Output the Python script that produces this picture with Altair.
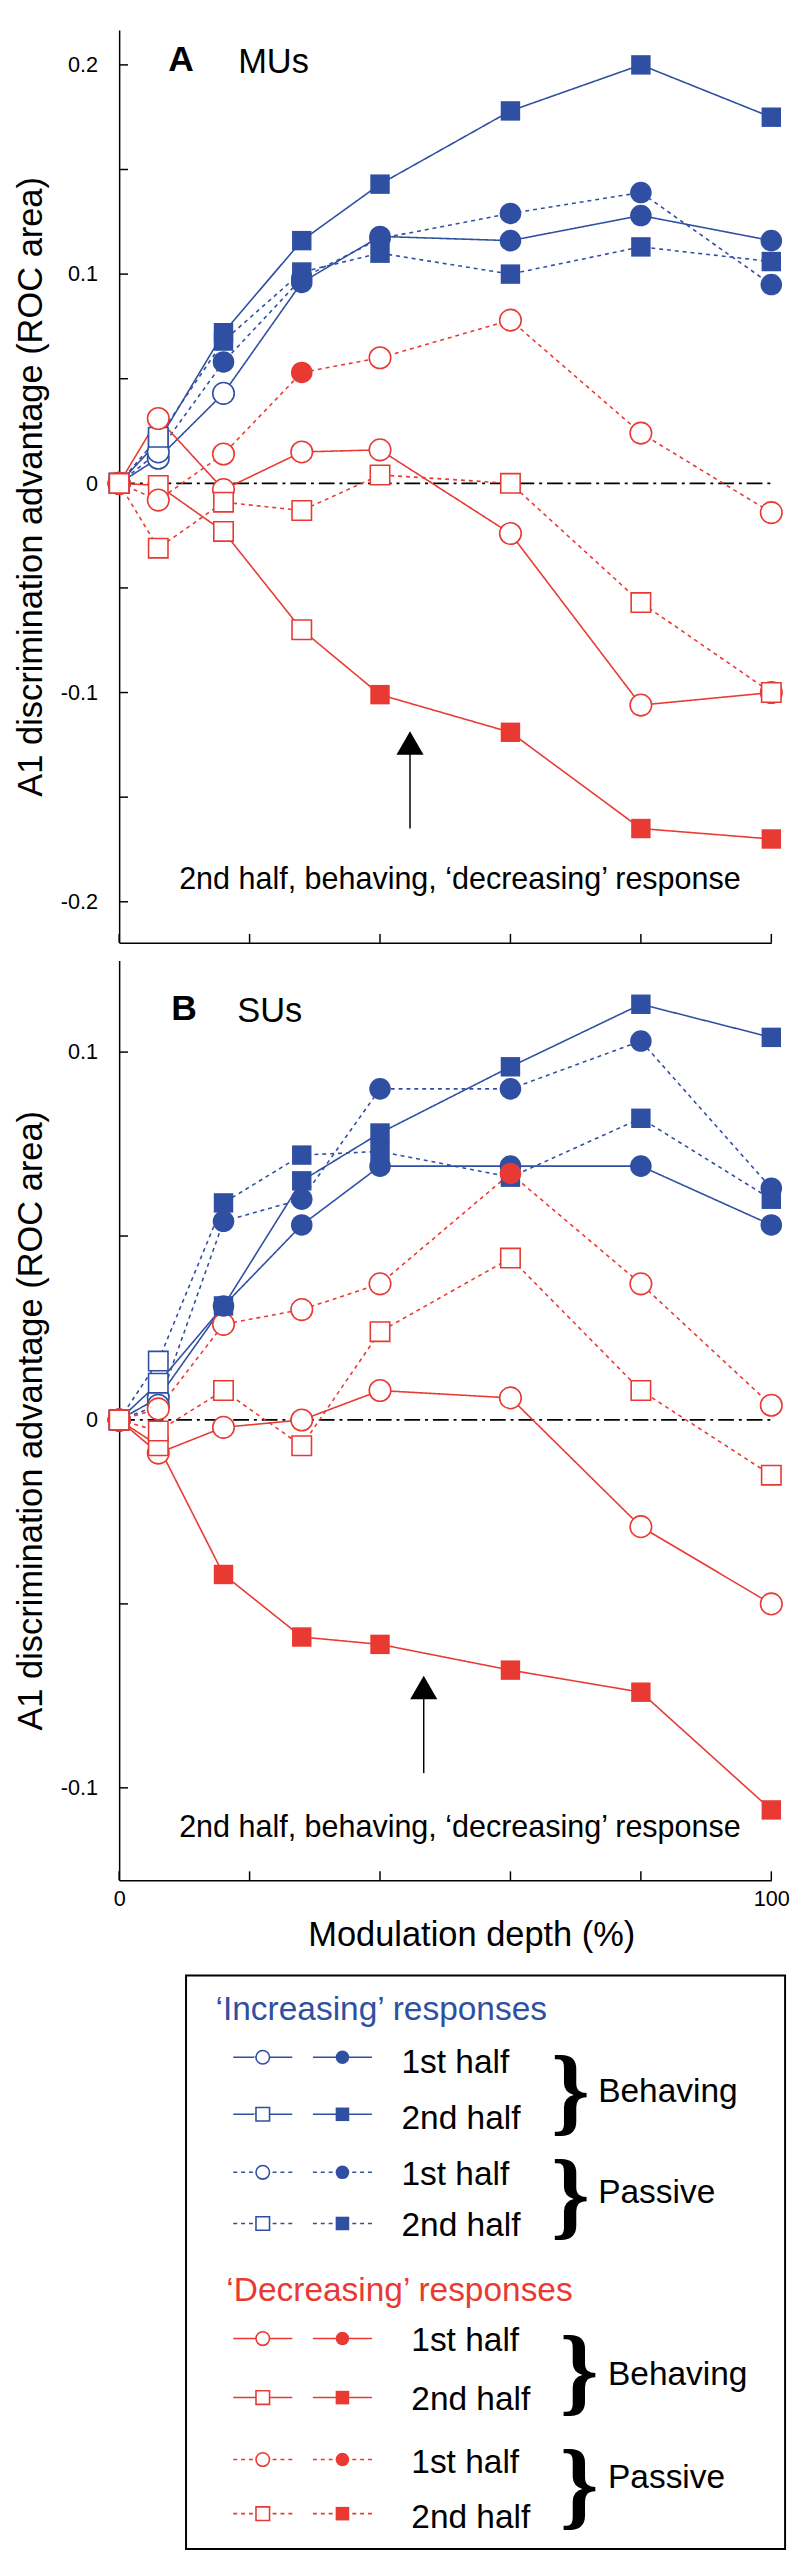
import altair as alt
import pandas as pd

# ---------------- data ----------------
depth = [0, 6, 16, 28, 40, 60, 80, 100]

# Panel A: MUs
mu_inc_beh_1st = [0, 0.012, 0.043, 0.096, 0.118, 0.116, 0.128, 0.116]
mu_inc_beh_1st_sig = [0, 0, 0, 1, 1, 1, 1, 1]
mu_inc_beh_2nd = [0, 0.020, 0.072, 0.116, 0.143, 0.178, 0.200, 0.175]
mu_inc_beh_2nd_sig = [0, 0, 1, 1, 1, 1, 1, 1]
mu_inc_pas_1st = [0, 0.015, 0.058, 0.098, 0.117, 0.129, 0.139, 0.095]
mu_inc_pas_1st_sig = [0, 0, 1, 1, 1, 1, 1, 1]
mu_inc_pas_2nd = [0, 0.022, 0.068, 0.101, 0.110, 0.100, 0.113, 0.106]
mu_inc_pas_2nd_sig = [0, 0, 1, 1, 1, 1, 1, 1]
mu_dec_beh_1st = [0, 0.031, -0.003, 0.015, 0.016, -0.024, -0.106, -0.100]
mu_dec_beh_1st_sig = [0, 0, 0, 0, 0, 0, 0, 0]
mu_dec_beh_2nd = [0, -0.001, -0.023, -0.070, -0.101, -0.119, -0.165, -0.170]
mu_dec_beh_2nd_sig = [0, 0, 0, 0, 1, 1, 1, 1]
mu_dec_pas_1st = [0, -0.008, 0.014, 0.053, 0.060, 0.078, 0.024, -0.014]
mu_dec_pas_1st_sig = [0, 0, 0, 1, 0, 0, 0, 0]
mu_dec_pas_2nd = [0, -0.031, -0.009, -0.013, 0.004, 0.000, -0.057, -0.100]
mu_dec_pas_2nd_sig = [0, 0, 0, 0, 0, 0, 0, 0]

# Panel B: SUs
su_inc_beh_1st = [0, 0.006, 0.031, 0.053, 0.069, 0.069, 0.069, 0.053]
su_inc_beh_1st_sig = [0, 0, 1, 1, 1, 1, 1, 1]
su_inc_beh_2nd = [0, 0.010, 0.031, 0.065, 0.078, 0.096, 0.113, 0.104]
su_inc_beh_2nd_sig = [0, 0, 1, 1, 1, 1, 1, 1]
su_inc_pas_1st = [0, 0.004, 0.054, 0.060, 0.090, 0.090, 0.103, 0.063]
su_inc_pas_1st_sig = [0, 0, 1, 1, 1, 1, 1, 1]
su_inc_pas_2nd = [0, 0.016, 0.059, 0.072, 0.073, 0.066, 0.082, 0.060]
su_inc_pas_2nd_sig = [0, 0, 1, 1, 1, 1, 1, 1]
su_dec_beh_1st = [0, -0.009, -0.002, 0.000, 0.008, 0.006, -0.029, -0.050]
su_dec_beh_1st_sig = [0, 0, 0, 0, 0, 0, 0, 0]
su_dec_beh_2nd = [0, -0.007, -0.042, -0.059, -0.061, -0.068, -0.074, -0.106]
su_dec_beh_2nd_sig = [0, 0, 1, 1, 1, 1, 1, 1]
su_dec_pas_1st = [0, 0.003, 0.026, 0.030, 0.037, 0.067, 0.037, 0.004]
su_dec_pas_1st_sig = [0, 0, 0, 0, 0, 1, 0, 0]
su_dec_pas_2nd = [0, -0.003, 0.008, -0.007, 0.024, 0.044, 0.008, -0.015]
su_dec_pas_2nd_sig = [0, 0, 0, 0, 0, 0, 0, 0]

x_ticks = [0, 20, 40, 60, 80, 100]
a_label_vals = [-0.2, -0.1, 0, 0.1, 0.2]
a_tick_vals = [-0.2, -0.15, -0.1, -0.05, 0, 0.05, 0.1, 0.15, 0.2]
b_label_vals = [-0.1, 0, 0.1]
b_tick_vals = [-0.1, -0.05, 0, 0.05, 0.1]

annotation = "2nd half, behaving, \u2018decreasing\u2019 response"
y_title = "A1 discrimination advantage (ROC area)"

# ---------------- styles / layout ----------------
BLUE = "#2F4FA2"
RED = "#E83A33"
FONT = "Liberation Sans"
W = 663
H_A, H_B = 928, 935
A_DOM = [-0.2196, 0.2167]
B_DOM = [-0.1251, 0.1249]
OX, OY_B = 120, 952  # reference origin of panel B plot (for legend layout)

col_sc = alt.Scale(domain=["inc", "dec"], range=[BLUE, RED])
dash_sc = alt.Scale(domain=["beh", "pas"], range=[[1, 0], [4, 4]])
shape_sc = alt.Scale(domain=["1st", "2nd"], range=["circle", "square"])
size_sc = alt.Scale(domain=["1st", "2nd"], range=[480, 390])
x_sc = alt.Scale(domain=[0, 100], nice=False, zero=False)


def build_table(rows):
    recs = []
    for resp, state, half, vals, sig in rows:
        for xv, yv, s in zip(depth, vals, sig):
            recs.append(dict(x=xv, y=yv, sig=s, resp=resp, state=state,
                             half=half, series=f"{resp}-{state}-{half}"))
    return pd.DataFrame(recs)


mu_df = build_table([
    ("inc", "beh", "1st", mu_inc_beh_1st, mu_inc_beh_1st_sig),
    ("inc", "beh", "2nd", mu_inc_beh_2nd, mu_inc_beh_2nd_sig),
    ("inc", "pas", "1st", mu_inc_pas_1st, mu_inc_pas_1st_sig),
    ("inc", "pas", "2nd", mu_inc_pas_2nd, mu_inc_pas_2nd_sig),
    ("dec", "beh", "1st", mu_dec_beh_1st, mu_dec_beh_1st_sig),
    ("dec", "beh", "2nd", mu_dec_beh_2nd, mu_dec_beh_2nd_sig),
    ("dec", "pas", "1st", mu_dec_pas_1st, mu_dec_pas_1st_sig),
    ("dec", "pas", "2nd", mu_dec_pas_2nd, mu_dec_pas_2nd_sig),
])
su_df = build_table([
    ("inc", "beh", "1st", su_inc_beh_1st, su_inc_beh_1st_sig),
    ("inc", "beh", "2nd", su_inc_beh_2nd, su_inc_beh_2nd_sig),
    ("inc", "pas", "1st", su_inc_pas_1st, su_inc_pas_1st_sig),
    ("inc", "pas", "2nd", su_inc_pas_2nd, su_inc_pas_2nd_sig),
    ("dec", "beh", "1st", su_dec_beh_1st, su_dec_beh_1st_sig),
    ("dec", "beh", "2nd", su_dec_beh_2nd, su_dec_beh_2nd_sig),
    ("dec", "pas", "1st", su_dec_pas_1st, su_dec_pas_1st_sig),
    ("dec", "pas", "2nd", su_dec_pas_2nd, su_dec_pas_2nd_sig),
])

LABEL_EXPR = ("datum.value == 0 ? '0' : (datum.value < 0 ? '-' + format(-datum.value, '.1f')"
              " : format(datum.value, '.1f'))")


def make_panel(df, ydom, height, label_vals, tick_vals, letter, unit, letter_pos,
               arrow, text_pos, show_x_labels):
    y_sc = alt.Scale(domain=ydom, nice=False, zero=False)
    y_axis = alt.Axis(values=label_vals, labelExpr=LABEL_EXPR, ticks=False, tickSize=0,
                      labelFontSize=22, labelPadding=22, title=y_title, titleFontSize=35,
                      titlePadding=12, domainWidth=1.5, grid=False)
    if show_x_labels:
        x_axis = alt.Axis(values=[0, 100], ticks=False, tickSize=0, labelFontSize=22,
                          labelPadding=9, title="Modulation depth (%)", titleFontSize=35,
                          titlePadding=8, titleX=358, domainWidth=1.5, grid=False,
                          labelFlush=False)
    else:
        x_axis = alt.Axis(labels=False, ticks=False, tickSize=0, title=None,
                          domainWidth=1.5, grid=False)

    X = alt.X("x:Q", scale=x_sc, axis=x_axis)
    Y = alt.Y("y:Q", scale=y_sc, axis=y_axis)

    base = alt.Chart(df)
    zero = alt.Chart(pd.DataFrame({"x": [0], "x2": [100], "y": [0]})).mark_rule(
        color="black", strokeWidth=1.8, strokeDash=[16, 5, 3, 5]
    ).encode(x=X, x2="x2:Q", y=Y)

    lines = base.mark_line(strokeWidth=1.6).encode(
        x=X, y=Y,
        color=alt.Color("resp:N", scale=col_sc, legend=None),
        strokeDash=alt.StrokeDash("state:N", scale=dash_sc, legend=None),
        detail="series:N",
    )
    open_pts = base.transform_filter("datum.sig == 0").mark_point(
        filled=True, fill="white", strokeWidth=1.6, opacity=1
    ).encode(
        x=X, y=Y,
        stroke=alt.Stroke("resp:N", scale=col_sc, legend=None),
        shape=alt.Shape("half:N", scale=shape_sc, legend=None),
        size=alt.Size("half:O", scale=size_sc, legend=None),
    )
    full_pts = base.transform_filter("datum.sig == 1").mark_point(
        filled=True, opacity=1
    ).encode(
        x=X, y=Y,
        color=alt.Color("resp:N", scale=col_sc, legend=None),
        shape=alt.Shape("half:N", scale=shape_sc, legend=None),
        size=alt.Size("half:O", scale=size_sc, legend=None),
    )

    xt = alt.Chart(pd.DataFrame({"x": x_ticks})).mark_rule(
        color="black", strokeWidth=1.5
    ).encode(x=X, y=alt.value(height), y2=alt.value(height - 9))
    yt = alt.Chart(pd.DataFrame({"y": tick_vals})).mark_rule(
        color="black", strokeWidth=1.5
    ).encode(y=Y, x=alt.value(0), x2=alt.value(9))

    lx, ly, ux, uy = letter_pos
    letter_t = alt.Chart(pd.DataFrame({"t": [letter]})).mark_text(
        font=FONT, fontSize=36, fontWeight="bold", align="left", baseline="alphabetic",
        color="black"
    ).encode(text="t:N", x=alt.value(lx), y=alt.value(ly))
    unit_t = alt.Chart(pd.DataFrame({"t": [unit]})).mark_text(
        font=FONT, fontSize=35, align="left", baseline="alphabetic", color="black"
    ).encode(text="t:N", x=alt.value(ux), y=alt.value(uy))

    ax, a_tip_center, a_bottom = arrow
    arr_df = pd.DataFrame({"x": [ax], "y": [a_bottom], "y2": [a_tip_center], "yh": [a_tip_center]})
    shaft = alt.Chart(arr_df).mark_rule(color="black", strokeWidth=1.5).encode(
        x=X, y=Y, y2="y2:Q")
    head = alt.Chart(arr_df).mark_point(
        shape="triangle-up", filled=True, color="black", opacity=1, size=760
    ).encode(x=X, y=alt.Y("yh:Q", scale=y_sc, axis=y_axis))

    tx, ty = text_pos
    note = alt.Chart(pd.DataFrame({"x": [tx], "y": [ty], "t": [annotation]})).mark_text(
        font=FONT, fontSize=31, align="left", baseline="alphabetic", color="black"
    ).encode(x=X, y=Y, text="t:N")

    layers = [zero, xt, yt, lines, open_pts, full_pts, shaft, head, note, letter_t, unit_t]
    return layers


panel_a_layers = make_panel(mu_df, A_DOM, H_A, a_label_vals, a_tick_vals, "A", "MUs",
                            (50, 42, 121, 44), (44.6, -0.1241, -0.165), (9.2, -0.194), False)
panel_b_layers = make_panel(su_df, B_DOM, H_B, b_label_vals, b_tick_vals, "B", "SUs",
                            (53, 61, 120, 63), (46.7, -0.0727, -0.096), (9.2, -0.1134), True)

# ---------------- legend (drawn below panel B) ----------------
leg_headers = ["\u2018Increasing\u2019 responses", "\u2018Decreasing\u2019 responses"]
leg_rows = ["1st half", "2nd half", "1st half", "2nd half"]
leg_groups = ["Behaving", "Passive"]

# layout (absolute pixel positions in the reference)
box = (188, 1984, 797, 2567)
hdr_pos = [(218, 2029), (229, 2315)]
sym_y = {"inc": [2067, 2125, 2184, 2236], "dec": [2353, 2413, 2476, 2531]}
row_base = {"inc": [2083, 2140, 2197, 2249], "dec": [2366, 2426, 2490, 2546]}
row_text_x = {"inc": 407, "dec": 417}
brace_pos = {"inc": [(559, 2104), (559, 2210)], "dec": [(568, 2389), (568, 2504)]}
group_pos = {"inc": [(607, 2113), (607, 2215)], "dec": [(617, 2400), (617, 2505)]}
sym_cx = [266, 347]

sym_recs, seg_recs, row_recs, brace_recs, grp_recs = [], [], [], [], []
for resp in ["inc", "dec"]:
    for i, (state, half) in enumerate([("beh", "1st"), ("beh", "2nd"), ("pas", "1st"), ("pas", "2nd")]):
        cy = sym_y[resp][i] - OY_B
        for j, cx in enumerate(sym_cx):
            sym_recs.append(dict(px=cx - OX, py=cy, resp=resp, half=half, sig=j))
            seg_recs.append(dict(px=cx - 30 - OX, px2=cx + 30 - OX, py=cy, resp=resp, state=state))
        row_recs.append(dict(px=row_text_x[resp] - OX, py=row_base[resp][i] - OY_B, t=leg_rows[i]))
    for k in range(2):
        bx, by = brace_pos[resp][k]
        brace_recs.append(dict(px=bx - OX, py=by - OY_B, t="}"))
        gx, gy = group_pos[resp][k]
        grp_recs.append(dict(px=gx - OX, py=gy - OY_B, t=leg_groups[k]))

PX = alt.X("px:Q", scale=None)
PY = alt.Y("py:Q", scale=None)

leg_box = alt.Chart(pd.DataFrame({"a": [0]})).mark_rect(
    fill="transparent", stroke="black", strokeWidth=2
).encode(x=alt.value(box[0] - OX), x2=alt.value(box[2] - OX),
         y=alt.value(box[1] - OY_B), y2=alt.value(box[3] - OY_B))

hdr = alt.Chart(pd.DataFrame({
    "px": [p[0] - OX for p in hdr_pos], "py": [p[1] - OY_B for p in hdr_pos],
    "t": leg_headers, "resp": ["inc", "dec"]})).mark_text(
    font=FONT, fontSize=34, align="left", baseline="alphabetic"
).encode(x=PX, y=PY, text="t:N", color=alt.Color("resp:N", scale=col_sc, legend=None))

segs = alt.Chart(pd.DataFrame(seg_recs)).mark_rule(strokeWidth=1.6).encode(
    x=PX, x2="px2:Q", y=PY,
    color=alt.Color("resp:N", scale=col_sc, legend=None),
    strokeDash=alt.StrokeDash("state:N", scale=dash_sc, legend=None))
sym_df = pd.DataFrame(sym_recs)
sym_open = alt.Chart(sym_df).transform_filter("datum.sig == 0").mark_point(
    filled=True, fill="white", strokeWidth=1.6, opacity=1, size=190
).encode(x=PX, y=PY, stroke=alt.Stroke("resp:N", scale=col_sc, legend=None),
         shape=alt.Shape("half:N", scale=shape_sc, legend=None))
sym_full = alt.Chart(sym_df).transform_filter("datum.sig == 1").mark_point(
    filled=True, opacity=1, size=190
).encode(x=PX, y=PY, color=alt.Color("resp:N", scale=col_sc, legend=None),
         shape=alt.Shape("half:N", scale=shape_sc, legend=None))
rows_t = alt.Chart(pd.DataFrame(row_recs)).mark_text(
    font=FONT, fontSize=34, align="left", baseline="alphabetic", color="black"
).encode(x=PX, y=PY, text="t:N")
braces = alt.Chart(pd.DataFrame(brace_recs)).mark_text(
    font="Liberation Serif", fontSize=100, fontWeight="bold", align="left",
    baseline="middle", color="black"
).encode(x=PX, y=PY, text="t:N")
groups = alt.Chart(pd.DataFrame(grp_recs)).mark_text(
    font=FONT, fontSize=34, align="left", baseline="alphabetic", color="black"
).encode(x=PX, y=PY, text="t:N")

panel_a = alt.layer(*panel_a_layers).properties(width=W, height=H_A)
panel_b = alt.layer(*panel_b_layers, leg_box, hdr, segs, sym_open, sym_full, rows_t,
                    braces, groups).properties(width=W, height=H_B)

chart = alt.vconcat(panel_a, panel_b, spacing=15).properties(
    padding={"left": 5, "top": 0, "right": 0, "bottom": 0}
).configure_view(stroke="transparent").configure_axis(
    domainColor="black", labelColor="black", titleColor="black",
    labelFont=FONT, titleFont=FONT, titleFontWeight="normal", grid=False
)

chart.save("out.html", embed_options={"renderer": "svg", "actions": False})
